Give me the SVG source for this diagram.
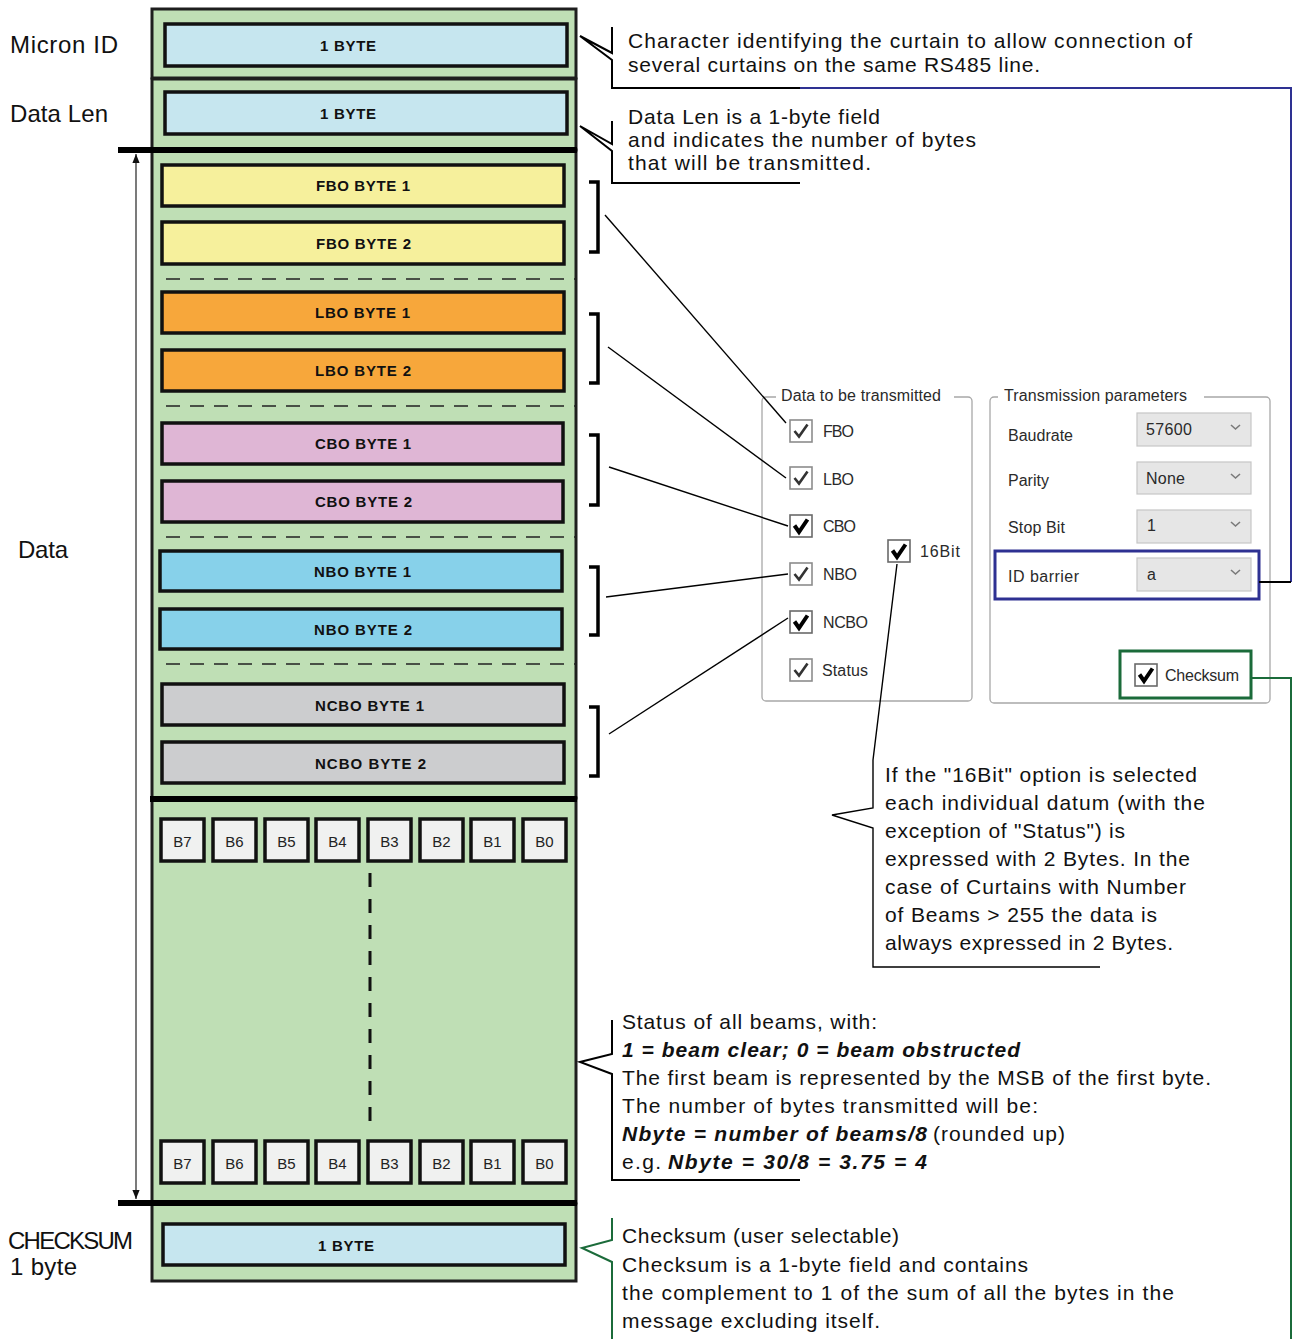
<svg xmlns="http://www.w3.org/2000/svg" xmlns:xlink="http://www.w3.org/1999/xlink" width="1293" height="1339" viewBox="0 0 1293 1339">
<style>
.sec{fill:#bfdfb5;stroke:#1e1e1e;stroke-width:3}
.bx{stroke:#111;stroke-width:3.5}
.blue{fill:#c6e6ef}.fbo{fill:#f6f09c}.lbo{fill:#f7a73b}.cbo{fill:#dfb6d5}.nbo{fill:#87d1ea}.ncbo{fill:#cccdcf}
.bit{fill:#f0f1f0;stroke:#111;stroke-width:3.5}
.bl{font-family:"Liberation Sans",Arial,sans-serif;font-weight:bold;font-size:15px;fill:#111}
.bt{font-family:"Liberation Sans",Arial,sans-serif;font-size:15px;fill:#222;text-anchor:middle}
.lab{font-family:"Liberation Sans",Arial,sans-serif;font-size:24px;fill:#111}
.co{font-family:"Liberation Sans",Arial,sans-serif;font-size:21px;fill:#111}
.bi{font-weight:bold;font-style:italic}
.ui{font-family:"Liberation Sans",Arial,sans-serif;font-size:16px;fill:#2a2a2a}
.thick{stroke:#000;stroke-width:6}
.dash{stroke:#222;stroke-width:1.6;stroke-dasharray:14 10;fill:none}
.brk{fill:none;stroke:#000;stroke-width:3.5}
.ln{fill:none;stroke:#000;stroke-width:1.4}
.cl{fill:none;stroke:#000;stroke-width:2}
.grp{fill:#fff;stroke:#a8a8a8;stroke-width:1.3}
.dd{fill:#e6e6e6;stroke:#c6c6c6;stroke-width:1.2}
.chev{fill:none;stroke:#7a7a7a;stroke-width:1.6}
</style>
<defs>
<marker id="ah" viewBox="0 0 10 10" refX="10" refY="5" markerWidth="9" markerHeight="14" orient="auto-start-reverse" markerUnits="userSpaceOnUse">
<path d="M0,1 L10,5 L0,9 z" fill="#111"/>
</marker>
<g id="cbl"><rect x="0" y="0" width="22" height="22" fill="#fff" stroke="#8c8c8c" stroke-width="1.6"/><path d="M4.5,11 L9,16.5 L17.5,4.5" fill="none" stroke="#333" stroke-width="2.6"/></g>
<g id="cbb"><rect x="0" y="0" width="22" height="22" fill="#fff" stroke="#6a6a6a" stroke-width="1.6"/><path d="M4.5,10.5 L9,17 L17.5,4.5" fill="none" stroke="#000" stroke-width="4"/></g>
<path id="chv" d="M0,0 L4.5,4 L9,0" class="chev"/>
</defs>

<!-- left labels -->
<g id="labels">
<text class="lab" x="10" y="53" textLength="108">Micron ID</text>
<text class="lab" x="10" y="122" textLength="98">Data Len</text>
<text class="lab" x="18" y="558" textLength="50">Data</text>
<text class="lab" x="8" y="1249" textLength="125" font-size="23">CHECKSUM</text>
<text class="lab" x="10" y="1275" textLength="67">1 byte</text>
</g>

<!-- sections -->
<g id="micron-id">
<rect class="sec" x="152" y="9" width="424" height="69"/>
<rect class="bx blue" x="165" y="24" width="402" height="42"/>
<text class="bl" x="320" y="51" textLength="56">1 BYTE</text>
</g>
<g id="data-len">
<rect class="sec" x="152" y="79" width="424" height="71"/>
<rect class="bx blue" x="165" y="92" width="402" height="42"/>
<text class="bl" x="320" y="119" textLength="56">1 BYTE</text>
</g>
<g id="data">
<rect class="sec" x="152" y="150" width="424" height="648"/>
<rect class="bx fbo" x="162" y="165" width="402" height="41"/>
<text class="bl" x="316" y="191" textLength="94">FBO BYTE 1</text>
<rect class="bx fbo" x="162" y="222" width="402" height="42"/>
<text class="bl" x="316" y="249" textLength="95">FBO BYTE 2</text>
<line class="dash" x1="166" y1="279" x2="576" y2="279"/>
<rect class="bx lbo" x="162" y="292" width="402" height="41"/>
<text class="bl" x="315" y="318" textLength="95">LBO BYTE 1</text>
<rect class="bx lbo" x="162" y="350" width="402" height="41"/>
<text class="bl" x="315" y="376" textLength="96">LBO BYTE 2</text>
<line class="dash" x1="166" y1="406" x2="576" y2="406"/>
<rect class="bx cbo" x="162" y="423" width="401" height="41"/>
<text class="bl" x="315" y="449" textLength="96">CBO BYTE 1</text>
<rect class="bx cbo" x="162" y="481" width="401" height="41"/>
<text class="bl" x="315" y="507" textLength="97">CBO BYTE 2</text>
<line class="dash" x1="166" y1="537" x2="576" y2="537"/>
<rect class="bx nbo" x="160" y="551" width="402" height="40"/>
<text class="bl" x="314" y="577" textLength="97">NBO BYTE 1</text>
<rect class="bx nbo" x="160" y="609" width="402" height="40"/>
<text class="bl" x="314" y="635" textLength="98">NBO BYTE 2</text>
<line class="dash" x1="166" y1="664" x2="576" y2="664"/>
<rect class="bx ncbo" x="162" y="684" width="402" height="41"/>
<text class="bl" x="315" y="711" textLength="109">NCBO BYTE 1</text>
<rect class="bx ncbo" x="162" y="742" width="402" height="41"/>
<text class="bl" x="315" y="769" textLength="111">NCBO BYTE 2</text>
</g>
<g id="status">
<rect class="sec" x="152" y="798" width="424" height="405"/>
<g id="bits-first">
<rect class="bit" x="161" y="819" width="43" height="42"/><text class="bt" x="182.5" y="847">B7</text>
<rect class="bit" x="213" y="819" width="43" height="42"/><text class="bt" x="234.5" y="847">B6</text>
<rect class="bit" x="265" y="819" width="43" height="42"/><text class="bt" x="286.5" y="847">B5</text>
<rect class="bit" x="316" y="819" width="43" height="42"/><text class="bt" x="337.5" y="847">B4</text>
<rect class="bit" x="368" y="819" width="43" height="42"/><text class="bt" x="389.5" y="847">B3</text>
<rect class="bit" x="420" y="819" width="43" height="42"/><text class="bt" x="441.5" y="847">B2</text>
<rect class="bit" x="471" y="819" width="43" height="42"/><text class="bt" x="492.5" y="847">B1</text>
<rect class="bit" x="523" y="819" width="43" height="42"/><text class="bt" x="544.5" y="847">B0</text>
</g>
<line x1="370" y1="873" x2="370" y2="1122" stroke="#111" stroke-width="3" stroke-dasharray="14 12"/>
<g id="bits-last">
<rect class="bit" x="161" y="1141" width="43" height="42"/><text class="bt" x="182.5" y="1169">B7</text>
<rect class="bit" x="213" y="1141" width="43" height="42"/><text class="bt" x="234.5" y="1169">B6</text>
<rect class="bit" x="265" y="1141" width="43" height="42"/><text class="bt" x="286.5" y="1169">B5</text>
<rect class="bit" x="316" y="1141" width="43" height="42"/><text class="bt" x="337.5" y="1169">B4</text>
<rect class="bit" x="368" y="1141" width="43" height="42"/><text class="bt" x="389.5" y="1169">B3</text>
<rect class="bit" x="420" y="1141" width="43" height="42"/><text class="bt" x="441.5" y="1169">B2</text>
<rect class="bit" x="471" y="1141" width="43" height="42"/><text class="bt" x="492.5" y="1169">B1</text>
<rect class="bit" x="523" y="1141" width="43" height="42"/><text class="bt" x="544.5" y="1169">B0</text>
</g>
</g>
<g id="checksum">
<rect class="sec" x="152" y="1204" width="424" height="77"/>
<rect class="bx blue" x="163" y="1224" width="402" height="41"/>
<text class="bl" x="318" y="1251" textLength="56">1 BYTE</text>
</g>

<!-- separators and length arrow -->
<g id="separators">
<line class="thick" x1="118" y1="150" x2="577" y2="150"/>
<line class="thick" x1="150" y1="799" x2="577" y2="799"/>
<line class="thick" x1="118" y1="1203" x2="577" y2="1203"/>
<line x1="136" y1="154" x2="136" y2="1199" stroke="#222" stroke-width="1.2" marker-start="url(#ah)" marker-end="url(#ah)"/>
</g>

<!-- dialog: data to be transmitted -->
<g id="grp-data">
<rect class="grp" x="762" y="397" width="210" height="304" rx="4"/>
<rect x="776" y="388" width="178" height="16" fill="#fff"/>
<text class="ui" x="781" y="401" textLength="160" font-size="15">Data to be transmitted</text>
<use xlink:href="#cbl" x="790" y="420"/><text class="ui" x="823" y="437" textLength="31">FBO</text>
<use xlink:href="#cbl" x="790" y="467"/><text class="ui" x="823" y="485" textLength="31">LBO</text>
<use xlink:href="#cbb" x="790" y="515"/><text class="ui" x="823" y="532" textLength="33">CBO</text>
<use xlink:href="#cbl" x="790" y="563"/><text class="ui" x="823" y="580" textLength="34">NBO</text>
<use xlink:href="#cbb" x="790" y="611"/><text class="ui" x="823" y="628" textLength="45">NCBO</text>
<use xlink:href="#cbl" x="790" y="659"/><text class="ui" x="822" y="676" textLength="46">Status</text>
<use xlink:href="#cbb" x="888" y="540"/><text class="ui" x="920" y="557" textLength="40">16Bit</text>
</g>

<!-- dialog: transmission parameters -->
<g id="grp-params">
<rect class="grp" x="990" y="397" width="280" height="306" rx="4"/>
<rect x="998" y="388" width="206" height="16" fill="#fff"/>
<text class="ui" x="1004" y="401" textLength="183" font-size="15">Transmission parameters</text>
<text class="ui" x="1008" y="441" textLength="65">Baudrate</text>
<rect class="dd" x="1137" y="413" width="114" height="33"/>
<text class="ui" x="1146" y="435" textLength="46">57600</text>
<use xlink:href="#chv" x="1231" y="425"/>
<text class="ui" x="1008" y="486" textLength="41">Parity</text>
<rect class="dd" x="1137" y="462" width="114" height="32"/>
<text class="ui" x="1146" y="484" textLength="39" fill="#111">None</text>
<use xlink:href="#chv" x="1231" y="474"/>
<text class="ui" x="1008" y="533" textLength="57">Stop Bit</text>
<rect class="dd" x="1137" y="510" width="114" height="33"/>
<text class="ui" x="1147" y="531">1</text>
<use xlink:href="#chv" x="1231" y="522"/>
</g>
<g id="id-barrier">
<rect x="995" y="551" width="264" height="48" fill="none" stroke="#2e3192" stroke-width="3"/>
<text class="ui" x="1008" y="582" textLength="71">ID barrier</text>
<rect class="dd" x="1137" y="558" width="114" height="33"/>
<text class="ui" x="1147" y="580">a</text>
<use xlink:href="#chv" x="1231" y="570"/>
</g>
<g id="checksum-option">
<rect x="1120" y="651" width="131" height="47" fill="none" stroke="#1b6b3a" stroke-width="3"/>
<use xlink:href="#cbb" x="1135" y="664"/>
<text class="ui" x="1165" y="681" textLength="74">Checksum</text>
</g>

<!-- callout texts -->
<g id="note-micron">
<text class="co" x="628" y="48" textLength="564">Character identifying the curtain to allow connection of</text>
<text class="co" x="628" y="72" textLength="412">several curtains on the same RS485 line.</text>
</g>
<g id="note-datalen">
<text class="co" x="628" y="124" textLength="252">Data Len is a 1-byte field</text>
<text class="co" x="628" y="147" textLength="348">and indicates the number of bytes</text>
<text class="co" x="628" y="170" textLength="243">that will be transmitted.</text>
</g>
<g id="note-16bit">
<text class="co" x="885" y="782" textLength="312">If the "16Bit" option is selected</text>
<text class="co" x="885" y="810" textLength="320">each individual datum (with the</text>
<text class="co" x="885" y="838" textLength="240">exception of "Status") is</text>
<text class="co" x="885" y="866" textLength="305">expressed with 2 Bytes. In the</text>
<text class="co" x="885" y="894" textLength="301">case of Curtains with Number</text>
<text class="co" x="885" y="922" textLength="272">of Beams &gt; 255 the data is</text>
<text class="co" x="885" y="950" textLength="288">always expressed in 2 Bytes.</text>
</g>
<g id="note-status">
<text class="co" x="622" y="1029" textLength="255">Status of all beams, with:</text>
<text class="co bi" x="622" y="1057" textLength="398">1 = beam clear; 0 = beam obstructed</text>
<text class="co" x="622" y="1085" textLength="589">The first beam is represented by the MSB of the first byte.</text>
<text class="co" x="622" y="1113" textLength="416">The number of bytes transmitted will be:</text>
<text class="co bi" x="622" y="1141" textLength="305">Nbyte = number of beams/8</text>
<text class="co" x="933" y="1141" textLength="132">(rounded up)</text>
<text class="co" x="622" y="1169" textLength="39">e.g.</text>
<text class="co bi" x="668" y="1169" textLength="259">Nbyte = 30/8 = 3.75 = 4</text>
</g>
<g id="note-checksum">
<text class="co" x="622" y="1243" textLength="277">Checksum (user selectable)</text>
<text class="co" x="622" y="1272" textLength="406">Checksum is a 1-byte field and contains</text>
<text class="co" x="622" y="1300" textLength="552">the complement to 1 of the sum of all the bytes in the</text>
<text class="co" x="622" y="1328" textLength="258">message excluding itself.</text>
</g>

<!-- connectors -->
<g id="connectors">
<path class="brk" d="M589,182 H598 V252 H589"/>
<path class="brk" d="M589,314 H598 V383 H589"/>
<path class="brk" d="M589,435 H598 V505 H589"/>
<path class="brk" d="M589,567 H598 V635 H589"/>
<path class="brk" d="M589,707 H598 V776 H589"/>
<line class="ln" x1="605" y1="215" x2="786" y2="423"/>
<line class="ln" x1="608" y1="347" x2="786" y2="478"/>
<line class="ln" x1="609" y1="467" x2="788" y2="526"/>
<line class="ln" x1="606" y1="597" x2="788" y2="574"/>
<line class="ln" x1="609" y1="734" x2="788" y2="618"/>
<path class="cl" d="M612,27 V53 L580,36 L612,60 V88 H800"/>
<path fill="none" stroke="#2e3192" stroke-width="2" d="M800,88 H1291 V582"/>
<path class="cl" d="M1291,582 H1259"/>
<path class="cl" d="M612,121 V144 L580,126 L612,151 V183 H800"/>
<path class="ln" d="M897,564 L873,760 V808 L832,815 L873,828 V967 H1100"/>
<path class="cl" d="M612,1020 V1054 L580,1062 L612,1074 V1180 H800"/>
<path fill="none" stroke="#1b6b3a" stroke-width="2" d="M612,1218 V1240 L582,1248 L612,1262 V1339"/>
<path fill="none" stroke="#1b6b3a" stroke-width="2" d="M1251,678 H1291 V1339"/>
</g>
</svg>
